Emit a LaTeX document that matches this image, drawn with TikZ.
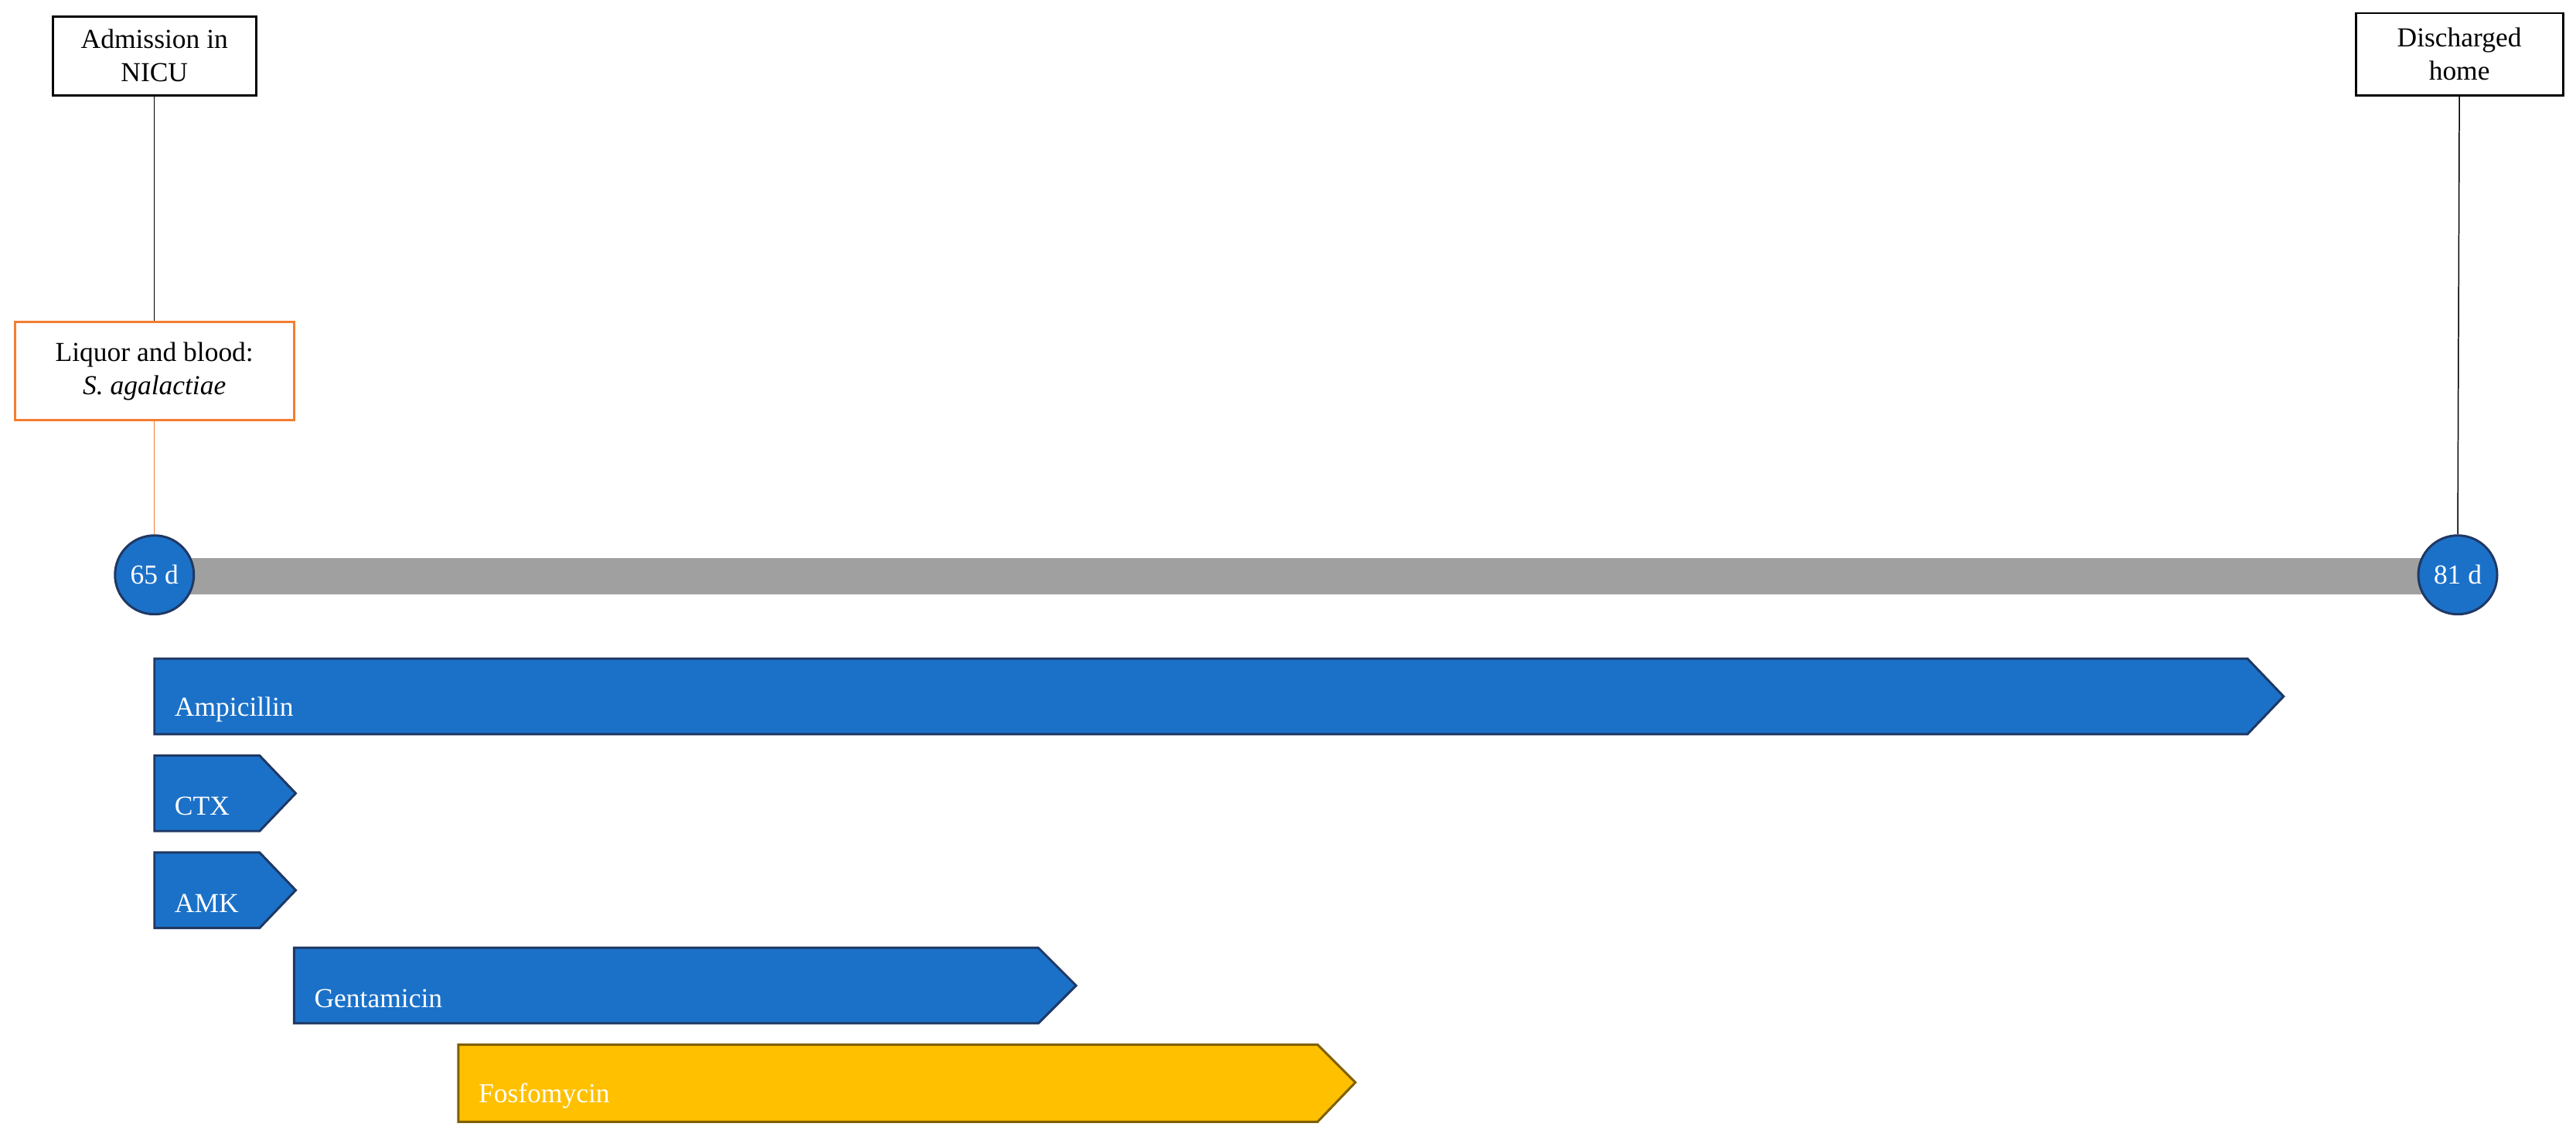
\documentclass[tikz,border=0pt]{standalone}
\usepackage{fontspec}
\setmainfont{Liberation Serif}
\definecolor{bblue}{HTML}{1B71C8}
\definecolor{bnavy}{HTML}{1F3864}
\definecolor{yell}{HTML}{FFC000}
\definecolor{ybrd}{HTML}{7F6000}
\definecolor{orng}{HTML}{F47D30}
\definecolor{gbar}{HTML}{A0A0A0}
\begin{document}
\begin{tikzpicture}[x=0.02cm,y=-0.02cm,font=\fontsize{9.5}{11.5}\selectfont,
  evbox/.style={draw=black,thick,fill=white,align=center,inner sep=0pt},
  dayc/.style={circle,draw=bnavy,thick,fill=bblue,text=white,minimum size=0.96cm,inner sep=0pt},
  drug/.style={draw=bnavy,thick,fill=bblue},
  lbl/.style={text=white,anchor=west,inner sep=0pt}]
\useasboundingbox (0,0) rectangle (1568,692);
\fill[gbar] (94,340) rectangle (1496,362);
\node[evbox,minimum width=2.48cm,minimum height=0.96cm] (adm) at (94,34) {Admission in\\NICU};
\node[evbox,minimum width=2.52cm,minimum height=1cm] (dis) at (1497,33) {Discharged\\home};
\node[evbox,draw=orng,minimum width=3.4cm,minimum height=1.2cm] (liq) at (94,226) {Liquor and blood:\\\textit{S. agalactiae}};
\node[dayc] (d65) at (94,350) {65 d};
\node[dayc] (d81) at (1496,350) {81 d};
\draw (adm.south) -- (liq.north);
\draw[orng] (liq.south) -- (d65.north);
\draw (dis.south) -- (d81.north);
\draw[drug] (94,401) -- (1368,401) -- (1390,424) -- (1368,447) -- (94,447) -- cycle;
\node[lbl] (amp) at (106,432) {Ampicillin};
\draw[drug] (94,460) -- (158,460) -- (180,483) -- (158,506) -- (94,506) -- cycle;
\node[lbl] (ctx) at (106,491) {CTX};
\draw[drug] (94,519) -- (158,519) -- (180,542) -- (158,565) -- (94,565) -- cycle;
\node[lbl] (amk) at (106,550) {AMK};
\draw[drug] (179,577) -- (632,577) -- (655,600) -- (632,623) -- (179,623) -- cycle;
\node[lbl] (gen) at (191,608) {Gentamicin};
\draw[thick,draw=ybrd,fill=yell] (279,636) -- (802,636) -- (825,659) -- (802,683) -- (279,683) -- cycle;
\node[lbl] (fos) at (291,667) {Fosfomycin};
\end{tikzpicture}
\end{document}
